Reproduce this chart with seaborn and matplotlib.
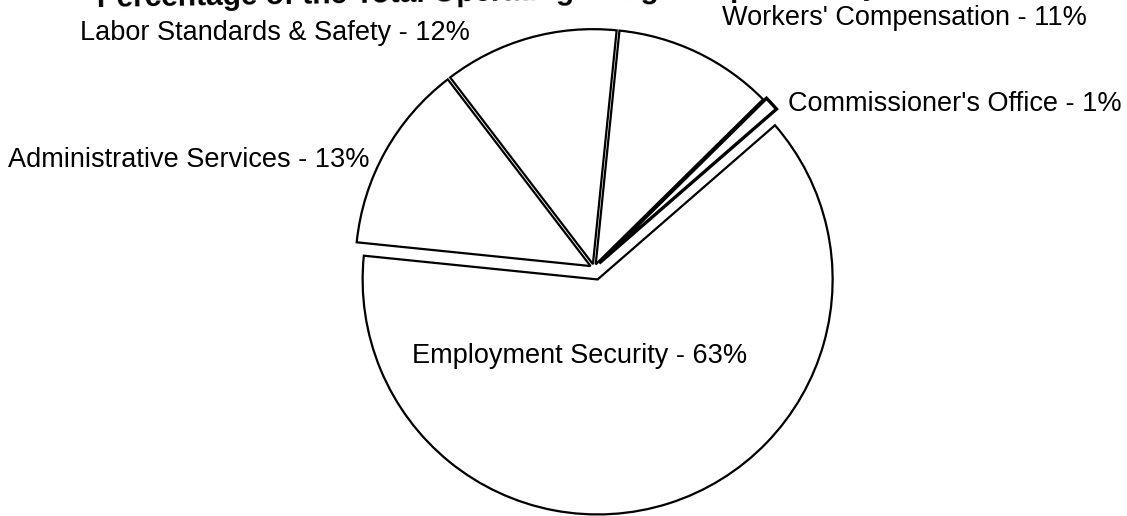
import seaborn as sns
import matplotlib.pyplot as plt

# shares of the operating budget, counter-clockwise from the right
divisions = ["Commissioner's Office", "Workers' Compensation", "Labor Standards & Safety",
             "Administrative Services", "Employment Security"]
shares = [1, 11, 12, 13, 63]
title = "Percentage of the Total Operating Budget Expended by Division"

sns.set_theme(style='white')
plt.rcParams['font.family'] = ['Liberation Sans', 'DejaVu Sans']

W, H = 1127, 516
fig = plt.figure(figsize=(W / 100, H / 100), dpi=100)
ax = fig.add_axes([0, 0, 1, 1])

# explode is in data units here (axes are in pixels)
explode = [7, 4, 4, 4, 12]
wedges, _ = ax.pie(shares, startangle=41, counterclock=True, explode=explode,
                   center=(594, H - 268), radius=235, colors=['white'] * 5,
                   wedgeprops=dict(edgecolor='black', linewidth=1.6))
wedges[0].set_linewidth(2.4)

ax.set_xlim(0, W)
ax.set_ylim(0, H)
ax.set_aspect('equal')
ax.axis('off')

# label positions (left x, baseline y in pixels from the top)
label_pos = {
    "Commissioner's Office": (788, 111),
    "Workers' Compensation": (722, 25),
    "Labor Standards & Safety": (80, 40),
    "Administrative Services": (8, 167),
    "Employment Security": (412, 363),
}
for name, val in zip(divisions, shares):
    x, y = label_pos[name]
    ax.text(x, H - y, f"{name} - {val}%", ha='left', va='baseline',
            fontsize=19.5, color='black')

# title is mostly cut off at the top edge of the scan (slightly skewed)
ax.text(97, H - 7.5, title, ha='left', va='baseline', fontsize=21.5,
        fontweight='bold', color='black', rotation=0.9, rotation_mode='anchor')

fig.savefig('out.png', dpi=100, facecolor='white')
